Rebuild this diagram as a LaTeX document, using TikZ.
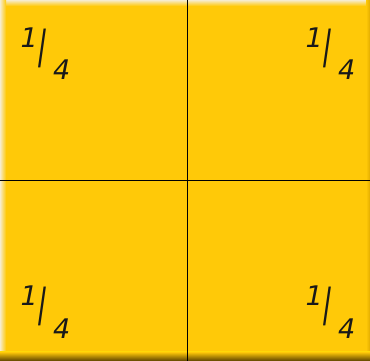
\documentclass[tikz,border=0pt]{standalone}
\usepackage{fontspec}
\setmainfont{DejaVu Sans}
\usepackage{graphicx}
\usetikzlibrary{positioning}

\definecolor{tileyellow}{RGB}{255,201,8}
\definecolor{tilelight}{RGB}{246,236,205}
\definecolor{tiledark}{RGB}{92,66,0}
\definecolor{tileedge}{RGB}{226,172,0}

% the fraction one quarter, written as 1 / 4
\newcommand\quarterfrac{%
  \fontsize{27}{27}\selectfont
  \raisebox{16.2pt}{\itshape 1}%
  \kern1pt\scalebox{0.8}[1.75]{\bfseries /}\kern6.5pt%
  \raisebox{-16.4pt}{\itshape 4}}

\begin{document}
\begin{tikzpicture}[
    x=1pt, y=1pt,
    % one style for the label, one for the dividing lines
    label/.style = {inner sep=0pt, text=black!90},
    divide/.style = {draw=black, line width=0.8pt},
  ]
  \useasboundingbox (0,0) rectangle (370,361);

  %% ---------- the tile with its bevel ----------
  \fill[tileyellow] (0,0) rectangle (370,361);
  \shade[top color=tilelight, bottom color=tileyellow] (0,355) rectangle (370,361);
  \shade[left color=tilelight, right color=tileyellow] (0,0) rectangle (6,361);
  \shade[left color=tileyellow, right color=tileedge] (366,0) rectangle (370,361);
  \shade[top color=tileyellow, bottom color=tiledark] (0,0) rectangle (370,9);

  %% ---------- the four quarters ----------
  \coordinate (top) at (187,361);
  \coordinate (bottom) at (187,0);
  \coordinate (left) at (0,181);
  \coordinate (right) at (370,181);
  \draw[divide] (top) -- (bottom);
  \draw[divide] (left) -- (right);

  \node[label] (q-nw) at (45.5,307.5) {\quarterfrac};
  \node[label] (q-ne) at (330.5,307.5) {\quarterfrac};
  \node[label] (q-sw) at (45.5,49) {\quarterfrac};
  \node[label] (q-se) at (330.5,49) {\quarterfrac};
\end{tikzpicture}
\end{document}
